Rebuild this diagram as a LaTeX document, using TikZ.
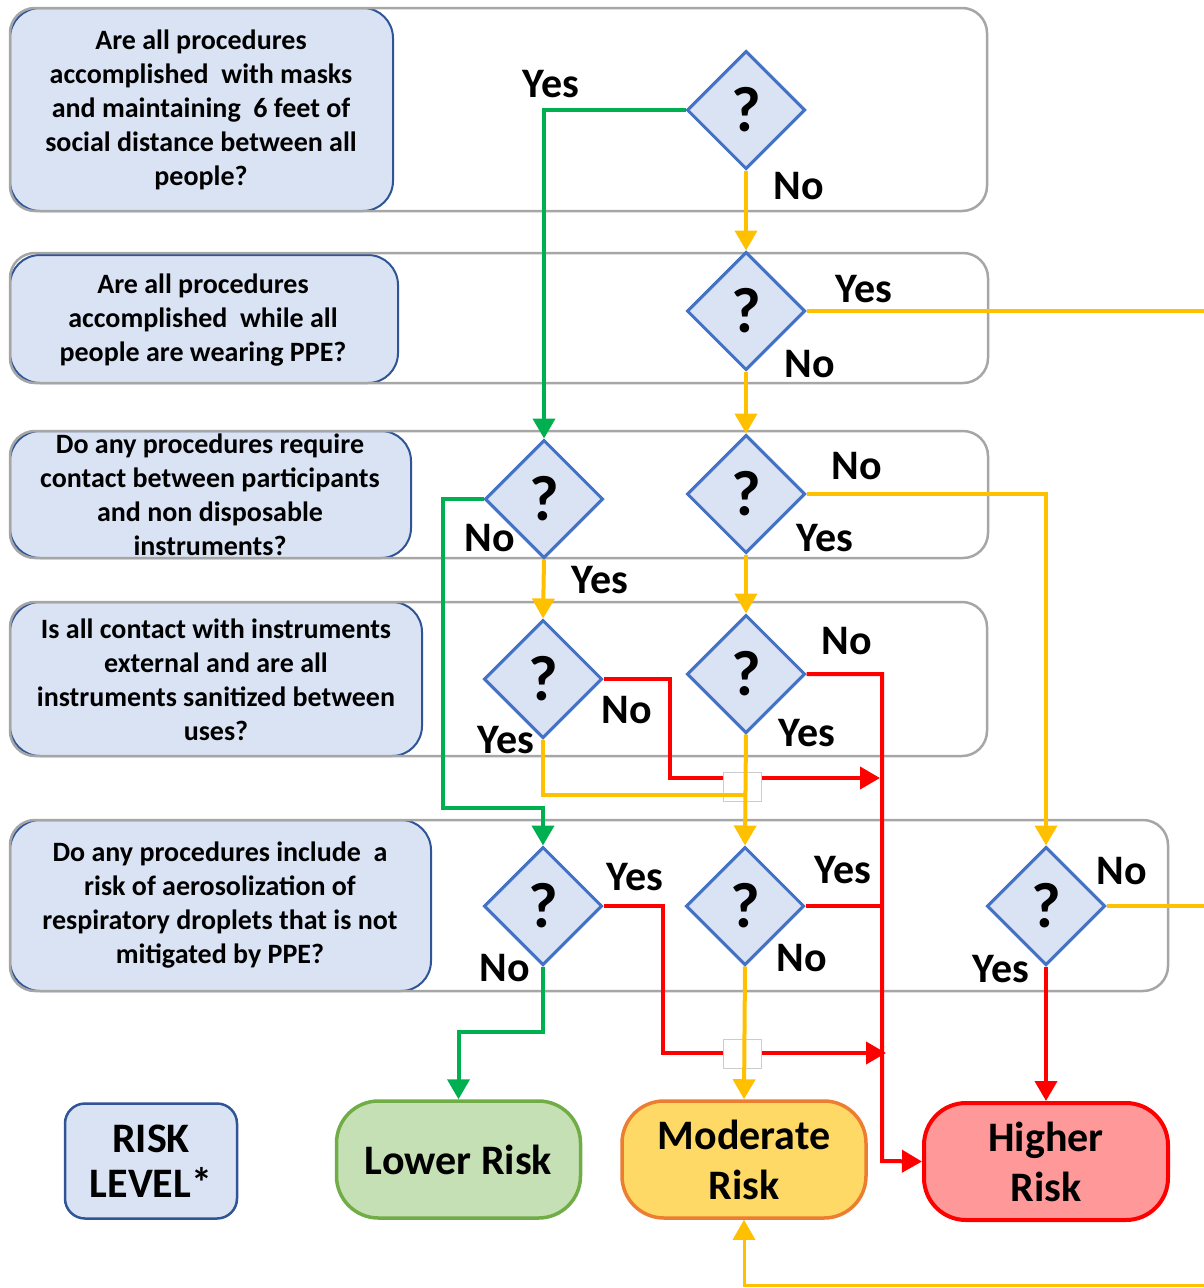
\documentclass[tikz,border=0pt]{standalone}
\usepackage{fontspec}
\setmainfont{Carlito}
\usetikzlibrary{shapes.geometric,arrows.meta}
\definecolor{qfill}{HTML}{DAE3F3}
\definecolor{qdraw}{HTML}{2F5597}
\definecolor{dblue}{HTML}{4472C4}
\definecolor{rowgray}{HTML}{A6A6A6}
\definecolor{gline}{HTML}{00B050}
\definecolor{yline}{HTML}{FFC000}
\definecolor{rline}{HTML}{FF0000}
\definecolor{lowfill}{HTML}{C5E0B4}
\definecolor{lowdraw}{HTML}{70AD47}
\definecolor{modfill}{HTML}{FFD966}
\definecolor{moddraw}{HTML}{ED7D31}
\definecolor{highfill}{HTML}{FF9999}
\tikzset{
  rowbox/.style={draw=rowgray,line width=2.5pt,rounded corners=25pt},
  qbox/.style={fill=qfill,draw=qdraw,line width=2pt,rounded corners=30pt},
  qtext/.style={align=center,font=\bfseries\fontsize{28}{34}\selectfont,inner sep=0pt},
  dia/.style={diamond,aspect=1,fill=qfill,draw=dblue,line width=3pt,minimum width=118pt,minimum height=118pt,inner sep=0pt,font=\bfseries\fontsize{64}{64}\selectfont},
  lbl/.style={font=\bfseries\fontsize{42}{44}\selectfont,inner sep=0pt},
  tip/.style={-{Triangle[length=20pt,width=22pt]}},
  gcon/.style={draw=gline,line width=4pt},
  ycon/.style={draw=yline,line width=4pt},
  rcon/.style={draw=rline,line width=4pt},
  term/.style={minimum width=244pt,minimum height=117pt,rounded corners=42pt,line width=3.5pt,align=center,inner sep=0pt,font=\bfseries\fontsize{42}{50}\selectfont},
  jump/.style={fill=white,draw=black!20,line width=1pt,minimum width=38pt,minimum height=29pt,inner sep=0pt}
}
\begin{document}
\begin{tikzpicture}[x=1pt,y=-1pt]
\useasboundingbox (0,0) rectangle (1204,1288);
% question boxes
\draw[qbox] (10,8) rectangle (393,211);
\draw[qbox] (10,255) rectangle (398,383);
\draw[qbox] (10,431) rectangle (411,558);
\draw[qbox] (10,602) rectangle (422,756);
\draw[qbox] (10,820) rectangle (431,991);
% row boxes
\draw[rowbox] (10,8) rectangle (987,211);
\draw[rowbox] (10,253) rectangle (988,383);
\draw[rowbox] (10,431) rectangle (988,558);
\draw[rowbox] (10,602) rectangle (987,756);
\draw[rowbox] (10,820) rectangle (1168,991);
% question texts
\node[qtext] (q1) at (201,110) {Are all procedures\\accomplished\ \ with masks\\and maintaining\ \ 6 feet of\\social distance between all\\people?};
\node[qtext] (q2) at (203,320) {Are all procedures\\accomplished\ \ while all\\people are wearing PPE?};
\node[qtext] (q3) at (210,495) {Do any procedures require\\contact between participants\\and non disposable\\instruments?};
\node[qtext] (q4) at (216,680) {Is all contact with instruments\\external and are all\\instruments sanitized between\\uses?};
\node[qtext] (q5) at (220,905) {Do any procedures include\ \ a\\risk of aerosolization of\\respiratory droplets that is not\\mitigated by PPE?};
% diamonds
\node[dia] (d1) at (746,110) {?};
\node[dia] (d2) at (746,311) {?};
\node[dia] (d3a) at (544,499) {?};
\node[dia] (d3b) at (746,494) {?};
\node[dia] (d4a) at (543,679) {?};
\node[dia] (d4b) at (746,674) {?};
\node[dia] (d5a) at (543,906) {?};
\node[dia] (d5b) at (745,906) {?};
\node[dia] (d5c) at (1046,906) {?};
% terminals
\node[term,fill=qfill,draw=qdraw,line width=2.5pt,minimum width=172pt,minimum height=115pt,rounded corners=20pt,font=\bfseries\fontsize{42}{45}\selectfont] (risk) at (151,1161) {RISK\\LEVEL*};
\node[term,fill=lowfill,draw=lowdraw] (lower) at (458.5,1159.5) {Lower Risk};
\node[term,fill=modfill,draw=moddraw] (moderate) at (744,1159.5) {Moderate\\Risk};
\node[term,fill=highfill,draw=rline,line width=4pt] (higher) at (1046,1161.5) {Higher\\Risk};
% free ends at the right edge
\coordinate (eA) at (1204,311);
\coordinate (eB) at (1204,906);
\coordinate (eC) at (1204,1285);
% red connectors
\draw[rcon,tip] (d4a.east) -| (670,778) -- (880,778);
\draw[rcon,tip] (d4b.east) -| (882,1161) -- (higher.west);
\draw[rcon] (d5b.east) -- (882,906);
\draw[rcon,tip] (d5a.east) -| (663,1053) -- (886,1053);
\draw[rcon,tip] (d5c.south) -- (higher.north);
% jump boxes
\node[jump] (j1) at (742,787) {};
\node[jump] (j2) at (742,1053.5) {};
% yellow connectors
\draw[ycon,tip] (d1.south) -- (d2.north);
\draw[ycon] (d2.east) -- (eA);
\draw[ycon,tip] (d2.south) -- (d3b.north);
\draw[ycon,tip] (d3b.east) -| (d5c.north);
\draw[ycon,tip] (d3a.south) -- (d4a.north);
\draw[ycon,tip] (d3b.south) -- (d4b.north);
\draw[ycon] (d4a.south) |- (746,795);
\draw[ycon,tip] (d4b.south) -- (d5b.north);
\draw[ycon,tip] (d5b.south) -- (moderate.north);
\draw[ycon] (d5c.east) -- (eB);
\draw[ycon,tip,line width=3pt] (eC) -| (moderate.south);
% green connectors
\draw[gcon,tip] (d1.west) -| (d3a.north);
\draw[gcon,tip] (d3a.west) -| (443,808) -| (d5a.north);
\draw[gcon,tip] (d5a.south) |- (459,1032) -| (lower.north);
% redraw diamonds on top
\foreach \n in {d1,d2,d3a,d3b,d4a,d4b,d5a,d5b,d5c}{
  \node[dia] at (\n) {?};
}
% labels
\node[lbl] (l1y) at (551,84) {Yes};
\node[lbl] (l1n) at (799,186) {No};
\node[lbl] (l2y) at (864,289) {Yes};
\node[lbl] (l2n) at (810,364) {No};
\node[lbl] (l3an) at (490,538) {No};
\node[lbl] (l3ay) at (600,580) {Yes};
\node[lbl] (l3bn) at (857,466) {No};
\node[lbl] (l3by) at (825,538) {Yes};
\node[lbl] (l4an) at (627,710) {No};
\node[lbl] (l4ay) at (506,740) {Yes};
\node[lbl] (l4bn) at (847,641) {No};
\node[lbl] (l4by) at (807,733) {Yes};
\node[lbl] (l5ay) at (635,877) {Yes};
\node[lbl] (l5an) at (505,968) {No};
\node[lbl] (l5by) at (843,870) {Yes};
\node[lbl] (l5bn) at (802,958) {No};
\node[lbl] (l5cn) at (1122,871) {No};
\node[lbl] (l5cy) at (1001,969) {Yes};
\end{tikzpicture}
\end{document}
